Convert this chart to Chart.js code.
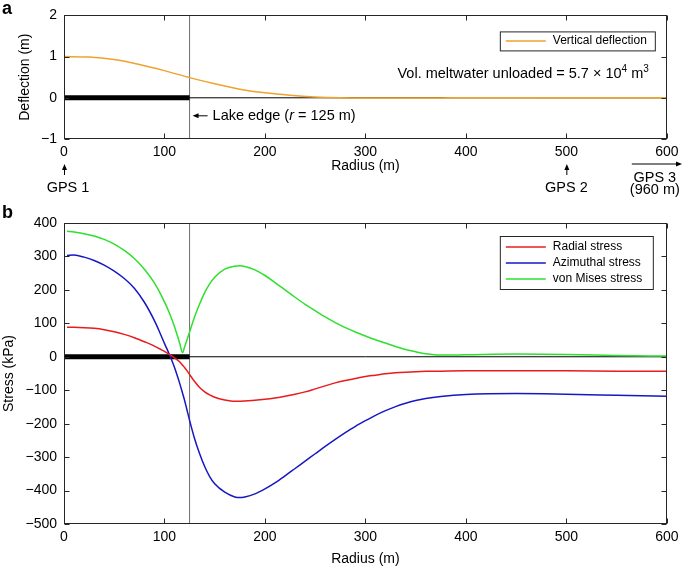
<!DOCTYPE html>
<html>
<head>
<meta charset="utf-8">
<script src="https://cdn.jsdelivr.net/npm/chart.js@4.4.1/dist/chart.umd.min.js"></script>
<style>
  html, body { margin: 0; padding: 0; background: #fff; }
  #wrap { position: relative; width: 683px; height: 566px; }
  canvas { position: absolute; left: 0; }
  #deflection { top: 0; }
  #stress { top: 200px; }
</style>
</head>
<body>
<div id="wrap">
  <canvas id="deflection" width="683" height="200"></canvas>
  <canvas id="stress" width="683" height="366"></canvas>
</div>
<script>
// values
var radiusTicks = [0, 100, 200, 300, 400, 500, 600];
var deflectionTicks = [-1, 0, 1, 2];
var stressTicks = [-500, -400, -300, -200, -100, 0, 100, 200, 300, 400];
var lakeEdge = 125;

var deflectionRadius = [0, 25, 50, 75, 100, 125, 150, 175, 200, 225, 250, 275, 300, 325, 350, 375, 400, 450, 500, 550, 600];
var deflection = [1.0, 0.99, 0.93, 0.81, 0.66, 0.49, 0.34, 0.21, 0.12, 0.06, 0.02, 0.0, -0.005, -0.005, -0.003, -0.002, 0, 0, 0, 0, 0];

var stressRadius = [3, 10, 20, 30, 40, 50, 60, 70, 80, 90,
  95, 100, 105, 110, 115, 118, 120, 122, 125, 130,
  135, 140, 145, 150, 160, 170, 175, 180, 190, 200,
  210, 220, 230, 240, 250, 260, 270, 280, 290, 300,
  310, 320, 330, 340, 350, 360, 375, 400, 450, 500,
  550, 600];
var radialStress = [88, 88, 87, 85, 81, 75, 67, 57, 45, 32,
  24, 16, 7, -3, -15, -25, -32, -40, -53, -74,
  -92, -105, -114, -121, -129, -133, -133, -132, -130, -127,
  -123, -118, -112, -105, -96, -87, -78, -71, -65, -59,
  -55, -51, -48, -46, -44.5, -43.5, -43, -42, -42, -42,
  -43, -43];
var azimuthalStress = [303, 304, 298, 288, 274, 256, 234, 205, 163, 108,
  75, 40, 6, -32, -78, -109, -130, -154, -190, -245,
  -290, -328, -358, -380, -405, -419, -421, -419, -410, -395,
  -377, -356, -334, -312, -290, -268, -247, -227, -208, -191,
  -175, -161, -149, -139, -131, -125, -119, -113, -110, -112,
  -115, -118];
var vonMisesStress = [375, 373, 368, 361, 351, 337, 318, 294, 262, 221,
  194, 164, 130, 90, 42, 12, 29, 47, 74, 120,
  158, 192, 218, 238, 262, 271, 272, 270, 260, 243,
  222, 200, 178, 157, 138, 119, 102, 87, 74, 62,
  51, 41, 31, 22, 15, 9, 5, 6, 8, 7,
  4, 2];

var gpsStations = ['GPS 1', 'GPS 2', 'GPS 3'];
var gpsRadius = [0, 500, 960];

var FAMILY = '"Liberation Sans", Arial, Helvetica, sans-serif';
var tickFont = { family: FAMILY, size: 14 };
var titleFont = { family: FAMILY, size: 14 };
var noteFont = '14.5px ' + FAMILY;
var legendFont = '12px ' + FAMILY;
var tickLen = 5;

function points(xs, ys) {
  return xs.map(function (x, i) { return { x: x, y: ys[i] }; });
}

function curve(label, color, xs, ys) {
  return { label: label, data: points(xs, ys), borderColor: color, borderWidth: 1.5,
    pointRadius: 0, cubicInterpolationMode: 'monotone', fill: false };
}

function guide(data, color, width) {
  return { data: data, borderColor: color, borderWidth: width, pointRadius: 0, tension: 0, fill: false };
}

function minusSign(v) {
  return String(v).replace('-', '\u2212');
}

function fixedTicks(list) {
  return function (scale) {
    scale.ticks = list.map(function (v) { return { value: v }; });
  };
}

function radiusAxis(height, titleBottom) {
  return {
    type: 'linear', min: 0, max: 600,
    grid: { display: false, drawTicks: false },
    border: { display: false },
    afterBuildTicks: fixedTicks(radiusTicks),
    afterFit: function (s) { s.height = height; },
    ticks: { color: '#000', font: tickFont, padding: 4.5, maxRotation: 0, autoSkip: false },
    title: { display: true, text: 'Radius (m)', color: '#000', font: titleFont, padding: { top: 0, bottom: titleBottom } }
  };
}

function valueAxis(min, max, list, title, titleLeft) {
  return {
    type: 'linear', min: min, max: max,
    grid: { display: false, drawTicks: false },
    border: { display: false },
    afterBuildTicks: fixedTicks(list),
    afterFit: function (s) { s.width = 64; },
    ticks: { color: '#000', font: tickFont, padding: 7, callback: minusSign },
    title: { display: true, text: title, color: '#000', font: titleFont, padding: { top: titleLeft, bottom: 0 } }
  };
}

function drawFrame(chart) {
  var ctx = chart.ctx, a = chart.chartArea, xs = chart.scales.x, ys = chart.scales.y;
  var L = Math.round(a.left) + 0.5, R = Math.round(a.right) - 0.5;
  var T = Math.round(a.top) + 0.5, B = Math.round(a.bottom) - 0.5;
  ctx.save();
  ctx.strokeStyle = '#262626';
  ctx.lineWidth = 1;
  ctx.strokeRect(L, T, R - L, B - T);
  ctx.beginPath();
  xs.ticks.forEach(function (t) {
    var px = Math.round(xs.getPixelForValue(t.value)) + 0.5;
    ctx.moveTo(px, B); ctx.lineTo(px, B - tickLen);
    ctx.moveTo(px, T); ctx.lineTo(px, T + tickLen);
  });
  ys.ticks.forEach(function (t) {
    var py = Math.round(ys.getPixelForValue(t.value)) + 0.5;
    ctx.moveTo(L, py); ctx.lineTo(L + tickLen, py);
    ctx.moveTo(R, py); ctx.lineTo(R - tickLen, py);
  });
  ctx.stroke();
  ctx.restore();
}

function drawLegend(chart, box) {
  var ctx = chart.ctx;
  var items = chart.data.datasets.filter(function (d) { return d.label; });
  ctx.save();
  ctx.fillStyle = '#fff';
  ctx.fillRect(box.x, box.y, box.w, box.h);
  ctx.strokeStyle = '#262626';
  ctx.lineWidth = 1;
  ctx.strokeRect(box.x + 0.5, box.y + 0.5, box.w, box.h);
  ctx.font = legendFont;
  ctx.textBaseline = 'middle';
  items.forEach(function (d, i) {
    var y = box.y + box.first + i * box.step;
    ctx.strokeStyle = d.borderColor;
    ctx.lineWidth = d.borderWidth;
    ctx.beginPath();
    ctx.moveTo(box.x + 6, y);
    ctx.lineTo(box.x + 46, y);
    ctx.stroke();
    ctx.fillStyle = '#000';
    ctx.fillText(d.label, box.x + 53, y);
  });
  ctx.restore();
}

// runs of text with their own font and vertical shift
function textRuns(ctx, x, y, runs, align) {
  var total = 0;
  runs.forEach(function (r) { ctx.font = r[1]; total += ctx.measureText(r[0]).width; });
  var cx = align === 'right' ? x - total : x;
  ctx.textAlign = 'left';
  runs.forEach(function (r) {
    ctx.font = r[1];
    ctx.fillText(r[0], cx, y + (r[2] || 0));
    cx += ctx.measureText(r[0]).width;
  });
}

function arrow(ctx, x1, y1, x2, y2) {
  var ang = Math.atan2(y2 - y1, x2 - x1), h = 6, w = 2.5;
  ctx.beginPath();
  ctx.moveTo(x1, y1);
  ctx.lineTo(x2 - h * 0.7 * Math.cos(ang), y2 - h * 0.7 * Math.sin(ang));
  ctx.stroke();
  ctx.beginPath();
  ctx.moveTo(x2, y2);
  ctx.lineTo(x2 - h * Math.cos(ang) + w * Math.sin(ang), y2 - h * Math.sin(ang) - w * Math.cos(ang));
  ctx.lineTo(x2 - h * Math.cos(ang) - w * Math.sin(ang), y2 - h * Math.sin(ang) + w * Math.cos(ang));
  ctx.closePath();
  ctx.fill();
}

function panelLetter(ctx, letter, y) {
  ctx.save();
  ctx.font = 'bold 18px ' + FAMILY;
  ctx.fillStyle = '#000';
  ctx.textBaseline = 'middle';
  ctx.textAlign = 'left';
  ctx.fillText(letter, 2, y);
  ctx.restore();
}

var deflectionNotes = {
  id: 'deflectionNotes',
  afterDraw: function (chart) {
    var ctx = chart.ctx, xs = chart.scales.x, ys = chart.scales.y, a = chart.chartArea;
    drawFrame(chart);
    drawLegend(chart, { x: a.right - 167, y: a.top + 16, w: 155, h: 19, first: 9.5, step: 16 });
    ctx.save();
    ctx.fillStyle = '#000';
    ctx.strokeStyle = '#000';
    ctx.lineWidth = 1;
    ctx.textBaseline = 'middle';

    var ex = xs.getPixelForValue(lakeEdge), ey = ys.getPixelForValue(0) + 18;
    arrow(ctx, ex + 18, ey, ex + 3, ey);
    textRuns(ctx, ex + 23, ey, [['Lake edge (', noteFont], ['r', 'italic ' + noteFont], [' = 125 m)', noteFont]], 'left');

    var small = '10px ' + FAMILY;
    textRuns(ctx, a.right - 18, a.top + 59, [['Vol. meltwater unloaded = 5.7 \u00d7 10', noteFont], ['4', small, -5], [' m', noteFont], ['3', small, -5]], 'right');

    ctx.font = noteFont;
    ctx.textAlign = 'center';
    gpsStations.forEach(function (name, i) {
      if (gpsRadius[i] <= xs.max) {
        var gx = xs.getPixelForValue(gpsRadius[i]);
        arrow(ctx, gx + 0.5, a.bottom + 36, gx + 0.5, a.bottom + 25);
        ctx.fillText(name, gx + (i === 0 ? 4 : 0), a.bottom + 49);
      } else {
        arrow(ctx, a.right - 35, a.bottom + 25, chart.width - 1, a.bottom + 25);
        ctx.fillText(name, a.right - 12, a.bottom + 39);
        ctx.fillText('(' + gpsRadius[i] + ' m)', a.right - 12, a.bottom + 51);
      }
    });
    ctx.restore();
    panelLetter(ctx, 'a', 9);
  }
};

var stressNotes = {
  id: 'stressNotes',
  afterDraw: function (chart) {
    var a = chart.chartArea;
    drawFrame(chart);
    drawLegend(chart, { x: a.right - 167, y: a.top + 13, w: 153, h: 53, first: 11, step: 16 });
    panelLetter(chart.ctx, 'b', 13);
  }
};

var lakeBar = [{ x: 0, y: 0 }, { x: lakeEdge, y: 0 }];
var zeroLine = [{ x: 0, y: 0 }, { x: 600, y: 0 }];

new Chart(document.getElementById('deflection'), {
  type: 'line',
  data: {
    datasets: [
      curve('Vertical deflection', '#F0A22E', deflectionRadius, deflection),
      guide(lakeBar, '#000', 5),
      guide(zeroLine, '#000', 1),
      guide([{ x: lakeEdge, y: -1 }, { x: lakeEdge, y: 2 }], '#6E6E6E', 1)
    ]
  },
  options: {
    responsive: false, animation: false, devicePixelRatio: 1,
    layout: { padding: { left: 0, right: 13, top: 13, bottom: 0 } },
    plugins: { legend: { display: false }, tooltip: { enabled: false } },
    scales: {
      x: radiusAxis(61, 25.6),
      y: valueAxis(-1, 2, deflectionTicks, 'Deflection (m)', 16.6)
    }
  },
  plugins: [deflectionNotes]
});

new Chart(document.getElementById('stress'), {
  type: 'line',
  data: {
    datasets: [
      curve('Radial stress', '#E81C1C', stressRadius, radialStress),
      curve('Azimuthal stress', '#1717C4', stressRadius, azimuthalStress),
      curve('von Mises stress', '#2EE02E', stressRadius, vonMisesStress),
      guide(lakeBar, '#000', 5),
      guide(zeroLine, '#000', 1),
      guide([{ x: lakeEdge, y: -500 }, { x: lakeEdge, y: 400 }], '#6E6E6E', 1)
    ]
  },
  options: {
    responsive: false, animation: false, devicePixelRatio: 1,
    layout: { padding: { left: 0, right: 13, top: 23, bottom: 0 } },
    plugins: { legend: { display: false }, tooltip: { enabled: false } },
    scales: {
      x: radiusAxis(42, -1.4),
      y: valueAxis(-500, 400, stressTicks, 'Stress (kPa)', 0.6)
    }
  },
  plugins: [stressNotes]
});
</script>
</body>
</html>
